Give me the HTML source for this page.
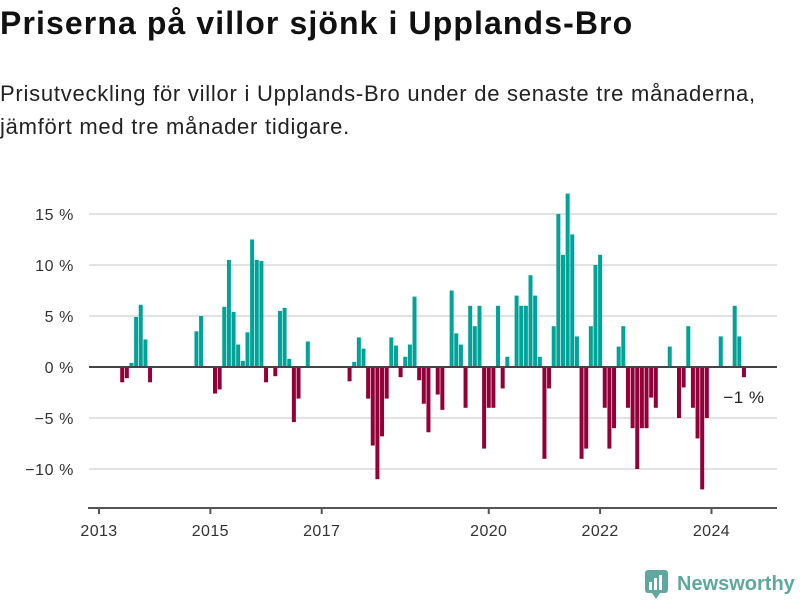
<!DOCTYPE html>
<html><head><meta charset="utf-8"><style>
body{margin:0;width:800px;height:600px;background:#fff;font-family:"Liberation Sans",sans-serif;overflow:hidden;position:relative;color:#111}
#title{position:absolute;left:0;top:5px;font-size:32px;font-weight:bold;margin:0;letter-spacing:1.1px}
#sub{position:absolute;left:0;top:77px;font-size:22px;line-height:33px;width:800px;color:#222;letter-spacing:0.75px;white-space:nowrap}
svg{position:absolute;left:0;top:0}
</style></head><body>
<h1 id="title">Priserna på villor sjönk i Upplands-Bro</h1>
<div id="sub">Prisutveckling för villor i Upplands-Bro under de senaste tre månaderna,<br>jämfört med tre månader tidigare.</div>
<svg id="chart" width="800" height="600"></svg>
<script>
const startYear = 2013;
const values = [null,null,null,null,null,-1.5,-1.1,0.4,4.9,6.1,2.7,-1.5,
null,null,null,null,null,null,null,null,null,3.5,5.0,null,
null,-2.6,-2.2,5.9,10.5,5.4,2.2,0.6,3.4,12.5,10.5,10.4,
-1.5,null,-0.9,5.5,5.8,0.8,-5.4,-3.1,null,2.5,null,null,
null,null,null,null,null,null,-1.4,0.5,2.9,1.8,-3.1,-7.7,
-11,-6.8,-3.1,2.9,2.1,-1,1,2.2,6.9,-1.3,-3.6,-6.4,
null,-2.7,-4.2,null,7.5,3.3,2.2,-4,6,4,6,-8,
-4,-4,6,-2.1,1,null,7,6,6,9,7,1,
-9,-2.1,4,15,11,17,13,3,-9,-8,4,10,
11,-4,-8,-6,2,4,-4,-6,-10,-6,-6,-3,
-4,null,null,2,null,-5,-2,4,-4,-7,-12,-5,
null,null,3,null,null,6,3,-1];
const yTicks = [-10,-5,0,5,10,15];
const yTickLabels = ["−10 %","−5 %","0 %","5 %","10 %","15 %"];
const xTickYears = [2013,2015,2017,2020,2022,2024];
const lastLabel = "−1 %";

const NS="http://www.w3.org/2000/svg";
const svg=document.getElementById('chart');
const y=v=>367-v*10.2;
const x=m=>99+m*4.64;
function mk(t,a){const e=document.createElementNS(NS,t);for(const k in a)e.setAttribute(k,a[k]);svg.appendChild(e);return e;}
yTicks.forEach((t,i)=>{
  if(t!==0){const g=mk('line',{x1:89,x2:777,y1:y(t),y2:y(t),stroke:'#e2e2e2','stroke-width':2});
  
  }
  const l=mk('text',{x:74,y:y(t)+6,'text-anchor':'end','font-size':16,'letter-spacing':0.6,fill:'#333'});
  l.textContent=yTickLabels[i];
  
  
});
values.forEach((v,m)=>{
  if(v===null)return;
  const top=v>=0?y(v):y(0), h=Math.abs(v)*10.2;
  const r=mk('rect',{x:x(m)-2,y:top,width:4,height:h,fill:v>=0?'#00a398':'#930038'});
  
  
});
const z=mk('line',{x1:89,x2:777,y1:y(0),y2:y(0),stroke:'#444','stroke-width':2});


const ax=mk('line',{x1:88,x2:777,y1:508,y2:508,stroke:'#555','stroke-width':2});


xTickYears.forEach(yr=>{
  const px=x((yr-startYear)*12);
  const t=mk('line',{x1:px,x2:px,y1:508,y2:514,stroke:'#555','stroke-width':2});
  
  
  const l=mk('text',{x:px,y:536,'text-anchor':'middle','font-size':16,'letter-spacing':0.4,fill:'#333'});
  l.textContent=yr;
  
  
});
const ll=mk('text',{x:x(values.length-1)+0,y:403,'text-anchor':'middle','font-size':17,'letter-spacing':0.5,fill:'#222'});
ll.textContent=lastLabel;


</script>
<svg width="800" height="600" style="position:absolute;left:0;top:0">
<rect x="645" y="570" width="23" height="23" rx="3" fill="#5ea8a0"/>
<rect x="649" y="582" width="3" height="8" fill="#fff"/><rect x="654" y="578" width="3" height="12" fill="#fff"/><rect x="659" y="575" width="3" height="15" fill="#fff"/>
<polygon points="652,593 660,593 656,599" fill="#5ea8a0"/>
<text x="677" y="590" font-size="20" font-weight="bold" fill="#5ea8a0" font-family="Liberation Sans, sans-serif">Newsworthy</text>
</svg>
</body></html>
